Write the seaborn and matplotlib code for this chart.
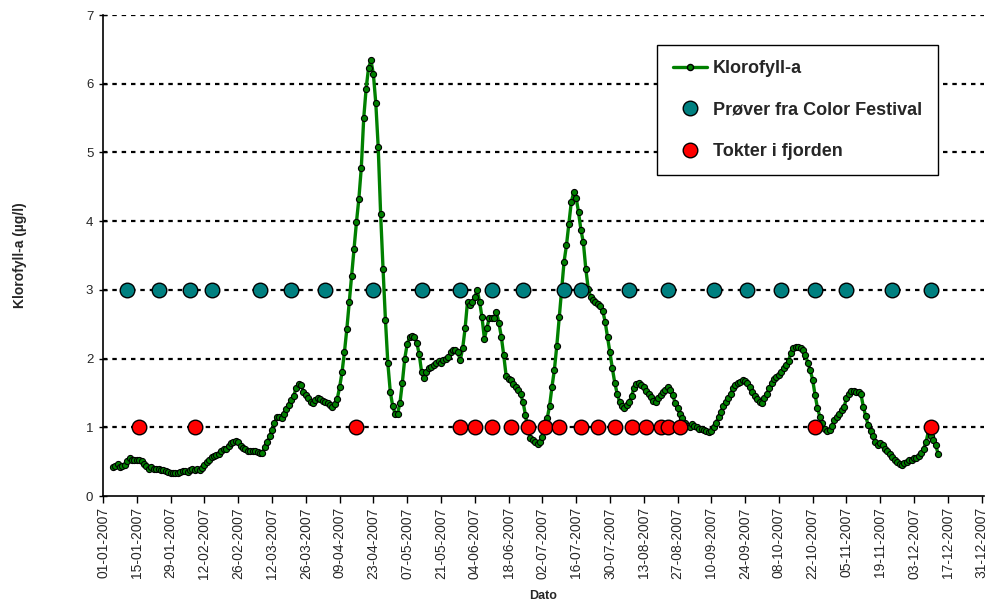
import pandas as pd
import matplotlib
matplotlib.use("Agg")
import matplotlib.pyplot as plt
import matplotlib.dates as mdates
from matplotlib.lines import Line2D
import seaborn as sns

# daglige målinger av klorofyll-a (µg/l), fra 05-01-2007
klorofyll = [
    0.42, 0.44, 0.47, 0.42, 0.44, 0.45, 0.51, 0.55, 0.53, 0.53, 0.53, 0.53,
    0.51, 0.46, 0.43, 0.40, 0.42, 0.40, 0.39, 0.39, 0.38, 0.38, 0.37, 0.35,
    0.34, 0.34, 0.33, 0.34, 0.35, 0.36, 0.36, 0.35, 0.38, 0.39, 0.38, 0.39,
    0.38, 0.41, 0.45, 0.49, 0.52, 0.57, 0.58, 0.59, 0.61, 0.65, 0.68, 0.69,
    0.73, 0.77, 0.79, 0.80, 0.78, 0.73, 0.70, 0.68, 0.66, 0.66, 0.65, 0.65,
    0.64, 0.63, 0.63, 0.72, 0.79, 0.87, 0.96, 1.06, 1.15, 1.15, 1.14, 1.20,
    1.26, 1.33, 1.40, 1.46, 1.57, 1.63, 1.62, 1.52, 1.47, 1.42, 1.37, 1.35,
    1.40, 1.42, 1.41, 1.39, 1.37, 1.35, 1.32, 1.29, 1.34, 1.41, 1.58, 1.80,
    2.09, 2.43, 2.82, 3.20, 3.60, 3.99, 4.33, 4.78, 5.50, 5.93, 6.23, 6.34,
    6.14, 5.72, 5.08, 4.11, 3.31, 2.56, 1.93,
    1.52, 1.31, 1.20, 1.20, 1.35, 1.65, 2.00, 2.21, 2.31, 2.33, 2.32, 2.23,
    2.06, 1.80, 1.72, 1.81, 1.86, 1.88, 1.91, 1.93, 1.96, 1.94, 1.98, 1.99,
    2.03, 2.09, 2.13, 2.13, 2.09, 1.98, 2.15, 2.44, 2.83, 2.78, 2.83, 2.89,
    3.00, 2.83, 2.60, 2.29, 2.44, 2.59, 2.59, 2.59, 2.68, 2.52, 2.32, 2.05,
    1.75, 1.71, 1.69, 1.63, 1.59, 1.54, 1.48, 1.37, 1.18, 0.96, 0.85, 0.81,
    0.78, 0.76, 0.78, 0.86, 0.98, 1.13, 1.31, 1.59, 1.84, 2.19, 2.60, 3.00,
    3.41, 3.65, 3.96, 4.28, 4.42, 4.34, 4.13, 3.87, 3.69, 3.31, 3.02, 2.90,
    2.86, 2.82, 2.79, 2.76, 2.70, 2.54, 2.32, 2.09, 1.86, 1.65, 1.49, 1.37,
    1.31, 1.28,
    1.32, 1.37, 1.46, 1.57, 1.63, 1.65, 1.62, 1.58, 1.53, 1.48, 1.44, 1.39,
    1.37, 1.42, 1.47, 1.52, 1.54, 1.58, 1.55, 1.47, 1.36, 1.28, 1.20, 1.13,
    1.07, 1.02, 1.01, 1.05, 1.02, 1.00, 0.98, 0.97, 0.96, 0.95, 0.93, 0.94,
    1.01, 1.07, 1.15, 1.23, 1.31, 1.37, 1.42, 1.49, 1.57, 1.62, 1.65, 1.66,
    1.69, 1.68, 1.64, 1.59, 1.52, 1.46, 1.41, 1.37, 1.35, 1.42, 1.49, 1.57,
    1.64, 1.70, 1.73, 1.76, 1.81, 1.86, 1.91, 1.97, 2.08, 2.15, 2.17, 2.17,
    2.16, 2.13, 2.05, 1.94, 1.83, 1.69, 1.47, 1.28, 1.15, 1.06, 0.98, 0.94,
    0.96, 1.02, 1.10, 1.15, 1.20, 1.25, 1.30, 1.42, 1.48, 1.53, 1.53, 1.52,
    1.52, 1.48, 1.30, 1.16, 1.03, 0.95, 0.87, 0.79, 0.74, 0.77, 0.74, 0.69,
    0.66, 0.61, 0.57, 0.53, 0.50, 0.47, 0.45, 0.48, 0.50, 0.52, 0.53, 0.55,
    0.56, 0.58, 0.62, 0.69, 0.79, 0.95, 0.87, 0.82, 0.74, 0.61,
]
start_dato = "2007-01-05"

color_festival = [
    "2007-01-11", "2007-01-24", "2007-02-06", "2007-02-15", "2007-03-07",
    "2007-03-20", "2007-04-03", "2007-04-23", "2007-05-13", "2007-05-29",
    "2007-06-11", "2007-06-24", "2007-07-11", "2007-07-18", "2007-08-07",
    "2007-08-23", "2007-09-11", "2007-09-25", "2007-10-09", "2007-10-23",
    "2007-11-05", "2007-11-24", "2007-12-10",
]
tokter = [
    "2007-01-16", "2007-02-08", "2007-04-16", "2007-05-29", "2007-06-04",
    "2007-06-11", "2007-06-19", "2007-06-26", "2007-07-03", "2007-07-09",
    "2007-07-18", "2007-07-25", "2007-08-01", "2007-08-08", "2007-08-14",
    "2007-08-20", "2007-08-23", "2007-08-28", "2007-10-23", "2007-12-10",
]
festival_niva = 3
tokt_niva = 1

df = pd.DataFrame({
    "dato": pd.date_range(start_dato, periods=len(klorofyll), freq="D"),
    "klorofyll": klorofyll,
})
df_fest = pd.DataFrame({"dato": pd.to_datetime(color_festival),
                        "y": [festival_niva] * len(color_festival)})
df_tokt = pd.DataFrame({"dato": pd.to_datetime(tokter),
                        "y": [tokt_niva] * len(tokter)})

sns.set_style("white")
plt.rcParams["font.family"] = ["Liberation Sans", "DejaVu Sans"]

fig = plt.figure(figsize=(9.87, 6.03), dpi=100)
ax = fig.add_axes([0.1044, 0.1774, 0.8926, 0.7976])

# stiplede hjelpelinjer
for yv in range(1, 8):
    ax.axhline(yv, color="black", lw=1.6, ls=(0, (2, 2.2)), zorder=1)

sns.lineplot(data=df, x="dato", y="klorofyll", ax=ax, color="#008000",
             lw=2.4, marker="o", markersize=4.4, markerfacecolor="#008000",
             markeredgecolor="black", markeredgewidth=0.8, zorder=3)
sns.scatterplot(data=df_fest, x="dato", y="y", ax=ax, color="#008080",
                s=110, edgecolor="black", linewidth=1.0, zorder=4)
sns.scatterplot(data=df_tokt, x="dato", y="y", ax=ax, color="#FF0000",
                s=110, edgecolor="black", linewidth=1.0, zorder=4)

ax.set_xlim(pd.Timestamp("2007-01-01"), pd.Timestamp("2008-01-01"))
ax.set_ylim(0, 7)
ax.set_yticks(range(0, 8))

ticks = pd.date_range("2007-01-01", "2007-12-31", freq="14D")
ax.set_xticks(ticks)
ax.xaxis.set_major_formatter(mdates.DateFormatter("%d-%m-%Y"))
plt.setp(ax.get_xticklabels(), rotation=90, fontsize=10)
plt.setp(ax.get_yticklabels(), fontsize=9.5)
ax.tick_params(axis="x", direction="out", length=5, width=1, color="black",
               bottom=True, pad=3)
ax.tick_params(axis="y", direction="inout", length=6, width=1, color="black",
               left=True, pad=4)

for side in ["top", "right"]:
    ax.spines[side].set_visible(False)
for side in ["left", "bottom"]:
    ax.spines[side].set_color("black")
    ax.spines[side].set_linewidth(1.2)

ax.set_xlabel("Dato", fontsize=9, fontweight="bold", labelpad=8)
ax.set_ylabel("Klorofyll-a (µg/l)", fontsize=10, fontweight="bold", labelpad=42)

handles = [
    Line2D([], [], color="#008000", lw=2.4, marker="o", markersize=4.4,
           markerfacecolor="#008000", markeredgecolor="black"),
    Line2D([], [], ls="", marker="o", markersize=10.5, markerfacecolor="#008080",
           markeredgecolor="black"),
    Line2D([], [], ls="", marker="o", markersize=10.5, markerfacecolor="#FF0000",
           markeredgecolor="black"),
]
labels = ["Klorofyll-a", "Prøver fra Color Festival", "Tokter i fjorden"]
leg = ax.legend(handles, labels, loc="upper left",
                bbox_to_anchor=(0.629, 0.938), frameon=True, fancybox=False,
                edgecolor="black", framealpha=1, handlelength=1.9,
                labelspacing=1.35, borderpad=0.85, handletextpad=0.35,
                borderaxespad=0, prop={"weight": "bold", "size": 13})
leg.get_frame().set_linewidth(1.0)

fig.savefig("out.png", dpi=100)
